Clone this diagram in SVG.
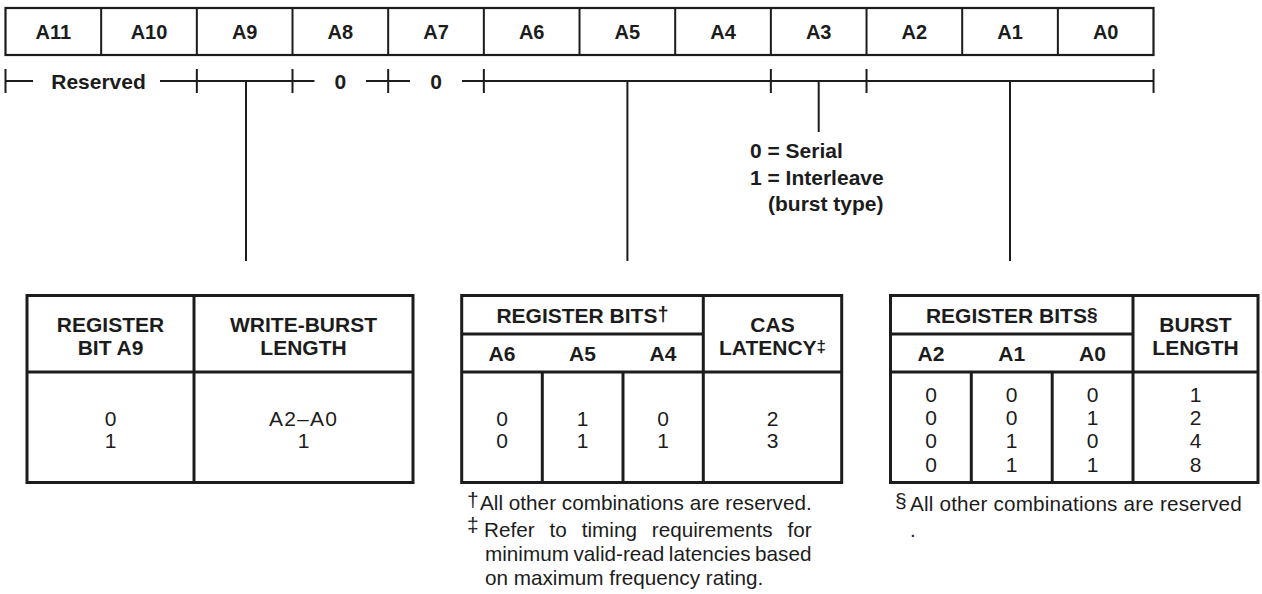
<svg xmlns="http://www.w3.org/2000/svg" width="1262" height="594" viewBox="0 0 1262 594">
<style>
  text { font-family: "Liberation Sans", Arial, Helvetica, sans-serif; fill: #1c1c1c; }
  .lbl { font-size: 20px; font-weight: bold; text-anchor: middle; }
  .bold { font-size: 21px; font-weight: bold; }
  .hd { font-size: 21px; font-weight: bold; text-anchor: middle; }
  .val { font-size: 21px; text-anchor: middle; }
  .fn { font-size: 20.7px; }
  .sym { font-size: 21px; }
  .cell { fill: #fff; stroke: #1c1c1c; stroke-width: 2.2; }
  .ln { stroke: #1c1c1c; stroke-width: 2; fill: none; }
  .tb { stroke: #1c1c1c; stroke-width: 3; fill: none; }
</style>

<g id="register">
  <rect class="cell" x="5.5" y="8" width="1148" height="47"/>
  <path class="ln" stroke-width="2.2" d="M101.17 8V55 M196.84 8V55 M292.51 8V55 M388.18 8V55 M483.85 8V55 M579.52 8V55 M675.19 8V55 M770.86 8V55 M866.53 8V55 M962.2 8V55 M1057.87 8V55"/>
  <text class="lbl" x="53.3" y="38.5">A11</text>
  <text class="lbl" x="149" y="38.5">A10</text>
  <text class="lbl" x="244.7" y="38.5">A9</text>
  <text class="lbl" x="340.3" y="38.5">A8</text>
  <text class="lbl" x="436" y="38.5">A7</text>
  <text class="lbl" x="531.7" y="38.5">A6</text>
  <text class="lbl" x="627.4" y="38.5">A5</text>
  <text class="lbl" x="723" y="38.5">A4</text>
  <text class="lbl" x="818.7" y="38.5">A3</text>
  <text class="lbl" x="914.4" y="38.5">A2</text>
  <text class="lbl" x="1010" y="38.5">A1</text>
  <text class="lbl" x="1105.7" y="38.5">A0</text>
</g>

<g id="connectors">
  <path class="ln" d="M5.5 81H33 M160 81H314.5 M366 81H410 M462 81H1153.54"/>
  <path class="ln" d="M5.5 69V93 M196.84 69V93 M292.51 69V93 M388.18 69V93 M483.85 69V93 M770.86 69V93 M866.53 69V93 M1153.54 69V93"/>
  <path class="ln" d="M246 81V261 M627.4 81V261 M818.7 81V132 M1010 81V261"/>
</g>

<g id="field-labels">
  <text class="bold" x="98.5" y="89" text-anchor="middle">Reserved</text>
  <text class="bold" x="340.3" y="89" text-anchor="middle">0</text>
  <text class="bold" x="436" y="89" text-anchor="middle">0</text>
</g>

<g id="burst-type">
  <text class="bold" x="750" y="158">0 = Serial</text>
  <text class="bold" x="750" y="184.5">1 = Interleave</text>
  <text class="bold" x="768" y="211">(burst type)</text>
</g>

<g id="table-write-burst">
  <rect class="tb" x="27" y="295.5" width="386" height="187"/>
  <path class="tb" d="M27 372H413 M194 295.5V482.5"/>
  <text class="hd" x="110.5" y="332">REGISTER</text>
  <text class="hd" x="110.5" y="355">BIT A9</text>
  <text class="hd" x="303.5" y="332">WRITE-BURST</text>
  <text class="hd" x="303.5" y="355">LENGTH</text>
  <text class="val" x="110.5" y="425.5">0</text>
  <text class="val" x="110.5" y="448.3">1</text>
  <text class="val" x="303.5" y="425.5" letter-spacing="1.2">A2–A0</text>
  <text class="val" x="303.5" y="448.3">1</text>
</g>

<g id="table-cas-latency">
  <rect class="tb" x="461.7" y="295.5" width="380" height="187"/>
  <path class="tb" d="M461.7 334H703.3 M461.7 372H841.7 M703.3 295.5V482.5 M542.3 372V482.5 M623 372V482.5"/>
  <text class="hd" x="582.5" y="323">REGISTER BITS<tspan font-size="20" dy="-2">†</tspan></text>
  <text class="hd" x="502" y="361">A6</text>
  <text class="hd" x="582.5" y="361">A5</text>
  <text class="hd" x="663" y="361">A4</text>
  <text class="hd" x="772.5" y="332">CAS</text>
  <text class="hd" x="772.5" y="355">LATENCY<tspan font-size="17" dy="-3">‡</tspan></text>
  <text class="val" x="502" y="425.5">0</text>
  <text class="val" x="502" y="448.3">0</text>
  <text class="val" x="582.5" y="425.5">1</text>
  <text class="val" x="582.5" y="448.3">1</text>
  <text class="val" x="663" y="425.5">0</text>
  <text class="val" x="663" y="448.3">1</text>
  <text class="val" x="772.5" y="425.5">2</text>
  <text class="val" x="772.5" y="448.3">3</text>
</g>

<g id="table-burst-length">
  <rect class="tb" x="890.5" y="295.5" width="367.5" height="187"/>
  <path class="tb" d="M890.5 334H1133 M890.5 372H1258 M1133 295.5V482.5 M971.3 372V482.5 M1052.2 372V482.5"/>
  <text class="hd" x="1011.7" y="323">REGISTER BITS<tspan font-size="19" dy="-2">§</tspan></text>
  <text class="hd" x="931" y="361">A2</text>
  <text class="hd" x="1011.7" y="361">A1</text>
  <text class="hd" x="1092.5" y="361">A0</text>
  <text class="hd" x="1195.5" y="332">BURST</text>
  <text class="hd" x="1195.5" y="355">LENGTH</text>
  <text class="val" x="931" y="401.7">0</text>
  <text class="val" x="931" y="425">0</text>
  <text class="val" x="931" y="448.3">0</text>
  <text class="val" x="931" y="471.7">0</text>
  <text class="val" x="1011.7" y="401.7">0</text>
  <text class="val" x="1011.7" y="425">0</text>
  <text class="val" x="1011.7" y="448.3">1</text>
  <text class="val" x="1011.7" y="471.7">1</text>
  <text class="val" x="1092.5" y="401.7">0</text>
  <text class="val" x="1092.5" y="425">1</text>
  <text class="val" x="1092.5" y="448.3">0</text>
  <text class="val" x="1092.5" y="471.7">1</text>
  <text class="val" x="1195.5" y="401.7">1</text>
  <text class="val" x="1195.5" y="425">2</text>
  <text class="val" x="1195.5" y="448.3">4</text>
  <text class="val" x="1195.5" y="471.7">8</text>
</g>

<g id="footnotes-cas">
  <text class="sym" x="467" y="507">†</text>
  <text class="fn" x="480" y="510" textLength="331.7" lengthAdjust="spacing">All other combinations are reserved.</text>
  <text class="sym" x="467" y="532">‡</text>
  <text class="fn" x="484" y="536.5" word-spacing="9.2">Refer to timing requirements for</text>
  <text class="fn" x="485" y="560.5" word-spacing="-1.2">minimum valid-read latencies based</text>
  <text class="fn" x="485" y="585">on maximum frequency rating.</text>
</g>

<g id="footnotes-burst">
  <text class="sym" x="895" y="508" font-size="19">§</text>
  <text class="fn" x="910" y="510.5" textLength="331.7" lengthAdjust="spacing">All other combinations are reserved</text>
  <text class="fn" x="910" y="537">.</text>
</g>
</svg>
